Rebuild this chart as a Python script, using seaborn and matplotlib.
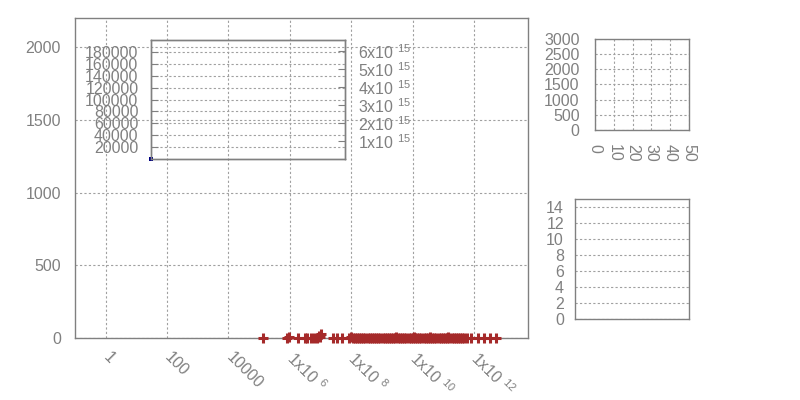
import matplotlib
matplotlib.use("Agg")
import matplotlib.pyplot as plt
import matplotlib.ticker as mticker
import numpy as np
import pandas as pd
import seaborn as sns

# main plot: points along the bottom of a log x axis
strip_x = [1.3e5, 8.3e5, 1.9e6, 3.0e6, 3.7e6, 4.8e6, 6.3e6, 7.9e6,
           2.6e7, 3.5e7, 4.9e7, 8.3e7,
           1.10e8, 1.29e8, 1.52e8, 1.78e8, 2.1e8, 2.45e8, 2.9e8, 3.4e8, 4.0e8,
           4.7e8, 5.5e8, 6.5e8, 7.6e8, 8.9e8, 1.05e9, 1.23e9, 1.45e9, 1.7e9,
           2.0e9, 2.35e9, 2.75e9, 3.25e9, 3.8e9, 4.5e9, 5.3e9, 6.2e9, 7.3e9,
           8.6e9, 1.0e10, 1.18e10, 1.39e10, 1.63e10, 1.92e10, 2.25e10, 2.65e10,
           3.1e10, 3.65e10, 4.3e10, 5.05e10, 5.95e10, 7.0e10, 8.2e10, 9.6e10,
           1.13e11, 1.33e11, 1.56e11, 1.84e11, 2.16e11, 2.54e11, 2.98e11,
           3.5e11, 4.1e11, 4.85e11, 5.7e11,
           7.8e11, 1.3e12, 2.1e12, 3.3e12, 5.2e12]
bump_x = [9.6e5, 9.1e6, 9.5e6, 1.07e7, 9.7e7, 2.8e9, 1.1e10, 3.6e10, 1.45e11]
bump_y = [8, 15, 8, 25, 10, 6, 10, 5, 6]

main_xticks = [1, 1e2, 1e4, 1e6, 1e8, 1e10, 1e12]
main_xlabels = ["1", "100", "10000", "1x10 $^{6}$", "1x10 $^{8}$",
                "1x10 $^{10}$", "1x10 $^{12}$"]
main_yticks = [0, 500, 1000, 1500, 2000]

# inset 1 (left y and right y2)
inset1_x = [0]
inset1_y = [0]
inset1_yticks = [20000, 40000, 60000, 80000, 100000, 120000, 140000, 160000, 180000]
inset1_y2ticks = [1e15, 2e15, 3e15, 4e15, 5e15, 6e15]
inset1_y2labels = ["1x10 $^{15}$", "2x10 $^{15}$", "3x10 $^{15}$",
                   "4x10 $^{15}$", "5x10 $^{15}$", "6x10 $^{15}$"]

# inset 2 (top right)
inset2_xticks = [0, 10, 20, 30, 40, 50]
inset2_yticks = [0, 500, 1000, 1500, 2000, 2500, 3000]

# inset 3 (bottom right)
inset3_yticks = [0, 2, 4, 6, 8, 10, 12, 14]

sns.set_style("white")
plt.rcParams["font.family"] = ["Liberation Sans", "DejaVu Sans"]
plt.rcParams["mathtext.fontset"] = "custom"
plt.rcParams["mathtext.rm"] = "Liberation Sans"
plt.rcParams["mathtext.default"] = "regular"

GRAY = "#808080"
GRID = dict(color="#a0a0a0", linestyle=(0, (2, 2)), linewidth=0.8)
FS = 11.5


def style(ax):
    for s in ax.spines.values():
        s.set_color(GRAY)
        s.set_linewidth(1)
        s.set_visible(True)
    ax.tick_params(which="both", direction="in", color=GRAY, labelcolor=GRAY,
                   labelsize=FS)
    ax.tick_params(which="major", length=5)
    ax.tick_params(which="minor", length=3)


fig = plt.figure(figsize=(8, 4), dpi=100)

# main axes
ax = fig.add_axes([75 / 800, 62 / 400, 453 / 800, 320 / 400])
df = pd.DataFrame({"x": strip_x + bump_x, "y": [0] * len(strip_x) + bump_y})
sns.scatterplot(data=df, x="x", y="y", marker="+", s=60, color="#a52a2a",
                linewidth=2.2, ax=ax, clip_on=False, zorder=3)
ax.set_xscale("log")
ax.set_xlim(0.1, 5.7e13)
ax.set_ylim(0, 2200)
ax.set_xticks(main_xticks)
ax.set_xticklabels(main_xlabels, rotation=-45, ha="left", va="center",
                   rotation_mode="anchor")
ax.xaxis.set_minor_locator(mticker.LogLocator(base=100, subs=np.arange(1, 10) * 0.1, numticks=30))
ax.xaxis.set_minor_formatter(mticker.NullFormatter())
ax.set_yticks(main_yticks)
ax.set_yticklabels([str(v) for v in main_yticks])
ax.set_xlabel("")
ax.set_ylabel("")
ax.grid(True, which="major", **GRID)
style(ax)
ax.tick_params(axis="x", which="major", pad=12)
ax.tick_params(axis="y", pad=10)

# inset 1
ax1 = fig.add_axes([151 / 800, 1 - 159 / 400, 194 / 800, 119 / 400])
ax1.set_facecolor("none")
sns.scatterplot(x=inset1_x, y=inset1_y, marker="s", s=5, color="navy",
                linewidth=0, ax=ax1, clip_on=False, zorder=3)
ax1.set_xlim(0, 1)
ax1.set_ylim(0, 200000)
ax1.set_xticks([])
ax1.set_yticks(inset1_yticks)
ax1.set_yticklabels([str(v) for v in inset1_yticks])
ax1.grid(True, axis="y", **GRID)
style(ax1)
ax1.tick_params(axis="y", pad=9)
ax1b = ax1.twinx()
ax1b.set_facecolor("none")
ax1b.set_ylim(0, 6.6e15)
ax1b.set_yticks(inset1_y2ticks)
ax1b.set_yticklabels(inset1_y2labels)
style(ax1b)
ax1b.tick_params(axis="y", pad=9)

# inset 2
ax2 = fig.add_axes([595 / 800, 1 - 130 / 400, 94 / 800, 91 / 400])
ax2.set_xlim(0, 50)
ax2.set_ylim(0, 3000)
ax2.set_xticks(inset2_xticks)
ax2.set_xticklabels([str(v) for v in inset2_xticks], rotation=-90, ha="center", va="top")
ax2.set_yticks(inset2_yticks)
ax2.set_yticklabels([str(v) for v in inset2_yticks])
ax2.grid(True, **GRID)
style(ax2)
ax2.tick_params(axis="x", pad=10, length=0)
ax2.tick_params(axis="y", pad=11, length=0)

# inset 3
ax3 = fig.add_axes([575 / 800, 1 - 319 / 400, 114 / 800, 120 / 400])
ax3.set_ylim(0, 15)
ax3.set_xticks([])
ax3.set_yticks(inset3_yticks)
ax3.set_yticklabels([str(v) for v in inset3_yticks])
ax3.grid(True, axis="y", **GRID)
style(ax3)
ax3.tick_params(axis="y", pad=8, length=0)

fig.savefig("out.png", dpi=100)
